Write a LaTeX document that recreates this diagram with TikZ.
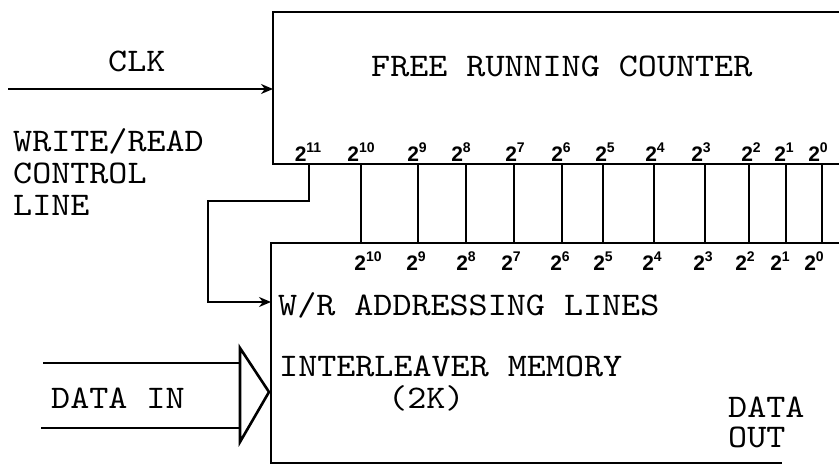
\documentclass[tikz,border=0pt]{standalone}
\usepackage{fontspec}
\usetikzlibrary{arrows.meta}
\newfontfamily\labfont{Liberation Sans}
\newfontfamily\tyfont{lmmono10-regular.otf}[FakeStretch=1.1]
\newcommand{\bitsup}[1]{2\raisebox{0.42em}{\fontsize{14}{14}\selectfont #1}}
\tikzset{
  wire/.style={line width=2.6pt},
  arr/.style={wire,-{Stealth[length=12pt,width=10pt]}},
  txt/.style={font=\tyfont\fontsize{33}{36}\selectfont, inner sep=0pt, anchor=base west,
    text height=21pt, text depth=0pt},
  bitlab/.style={font=\labfont\bfseries\fontsize{21}{22}\selectfont, inner sep=0pt, anchor=center}
}
\begin{document}
\begin{tikzpicture}[x=1pt,y=-1pt]
\useasboundingbox (0,0) rectangle (839,476);
% counter box (open to the right)
\coordinate (ctr) at (845,12);
\coordinate (ctl) at (273,12);
\coordinate (cbl) at (273,164);
\coordinate (cbr) at (845,164);
\draw[wire] (ctr) -- (ctl) -- (cbl) -- (cbr);
% memory box
\coordinate (mtr) at (845,243);
\coordinate (mtl) at (271,243);
\coordinate (mbl) at (271,463);
\coordinate (mbr) at (782,463);
\draw[wire] (mtr) -- (mtl) -- (mbl) -- (mbr);
% bit lines
\foreach \x/\e/\ux/\lx in {361/10/361/368, 418/9/417/416, 466/8/461/466, 514/7/515/511,
  562/6/561/560, 603/5/605/603, 654/4/655/652, 705/3/701/703, 749/2/751/745,
  786/1/784/780, 822/0/818/814}{
  \coordinate (c\e) at (\x,164);
  \coordinate (m\e) at (\x,243);
  \draw[wire] (c\e) -- (m\e);
  \node[bitlab] (u\e) at (\ux,152) {\bitsup{\e}};
  \node[bitlab] (l\e) at (\lx,261) {\bitsup{\e}};
}
\node[bitlab] (u11) at (308,152) {\bitsup{11}};
% write/read control line
\coordinate (c11) at (309,164);
\coordinate (wr) at (271,302);
\draw[arr] (c11) -- (309,201) -- (208,201) |- (wr);
% clock
\coordinate (clkin) at (8,89);
\coordinate (clk) at (273,89);
\draw[arr] (clkin) -- (clk);
% data in
\coordinate (dinA) at (43,363);
\coordinate (dinB) at (41,428);
\coordinate (triT) at (240,348);
\coordinate (triB) at (240,442);
\coordinate (triP) at (269,392);
\draw[wire] (dinA) -- (240,363);
\draw[wire] (dinB) -- (240,428);
\draw[wire, line join=miter] (triT) -- (triP) -- (triB) -- cycle;
% texts
\node[txt] (clkt) at (108,72) {CLK};
\node[txt] (frc) at (371,77) {FREE RUNNING COUNTER};
\node[txt] (wr1) at (13,152) {WRITE/READ};
\node[txt] (wr2) at (13,184) {CONTROL};
\node[txt] (wr3) at (13,216) {LINE};
\node[txt] (wra) at (278,315) {W/R ADDRESSING LINES};
\node[txt] (ilm) at (279,376) {INTERLEAVER MEMORY};
\node[txt] (twok) at (388,408) {(2K)};
\node[txt] (dint) at (51,408) {DATA IN};
\node[txt] (dout1) at (728,417) {DATA};
\node[txt] (dout2) at (728,447) {OUT};
\end{tikzpicture}
\end{document}
